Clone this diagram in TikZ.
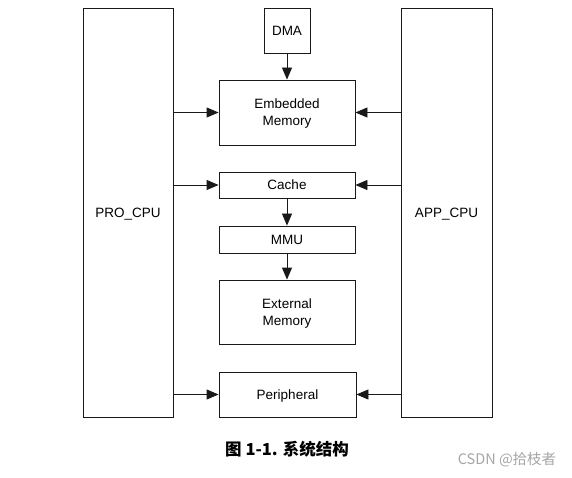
\documentclass[tikz,border=0pt]{standalone}
\usepackage{fontspec}
\setmainfont{Liberation Sans}
\newfontfamily\cjk{Noto Sans CJK SC}
\usetikzlibrary{arrows.meta}
\definecolor{linec}{RGB}{25,25,25}
\tikzset{
  blk/.style={draw=linec, line width=0.85pt, inner sep=0pt, align=center,
    font=\fontsize{13.5}{17}\selectfont, text=black, text depth=0pt},
  conn/.style={draw=linec, line width=0.85pt, -{Triangle[length=12pt,width=10pt]}}
}
\begin{document}
\begin{tikzpicture}[x=1pt,y=-1pt]
\useasboundingbox (0,0) rectangle (572,478);
\node[blk, minimum width=90pt, minimum height=409pt] (pro) at (128,212.5) {PRO\_CPU};
\node[blk, minimum width=91pt, minimum height=409pt] (app) at (446.5,212.5) {APP\_CPU};
\node[blk, minimum width=46pt, minimum height=45pt] (dma) at (287,30.5) {DMA};
\node[blk, minimum width=136pt, minimum height=65pt] (emb) at (287,112.5) {Embedded\\Memory};
\node[blk, minimum width=136pt, minimum height=26pt] (cache) at (287,185) {Cache};
\node[blk, minimum width=136pt, minimum height=27pt] (mmu) at (287,239.5) {MMU};
\node[blk, minimum width=136pt, minimum height=64pt] (ext) at (287,312) {External\\Memory};
\node[blk, minimum width=137pt, minimum height=45pt] (per) at (287.5,394.5) {Peripheral};
\draw[conn] (dma) -- (emb);
\draw[conn] (cache) -- (mmu);
\draw[conn] (mmu) -- (ext);
\draw[conn] (emb.west -| pro.east) -- (emb.west);
\draw[conn] (cache.west -| pro.east) -- (cache.west);
\draw[conn] (per.west -| pro.east) -- (per.west);
\draw[conn] (emb.east -| app.west) -- (emb.east);
\draw[conn] (cache.east -| app.west) -- (cache.east);
\draw[conn] (per.east -| app.west) -- (per.east);
\node[font=\cjk\bfseries\fontsize{16.5}{19}\selectfont, text=black, inner sep=0pt] (cap) at (287,449) {图 1-1. 系统结构};
\node[font=\cjk\fontsize{14.5}{16}\selectfont, text={rgb,255:red,165;green,165;blue,165}, inner sep=0pt] (wm) at (507,460) {CSDN @拾枝者};
\end{tikzpicture}
\end{document}
